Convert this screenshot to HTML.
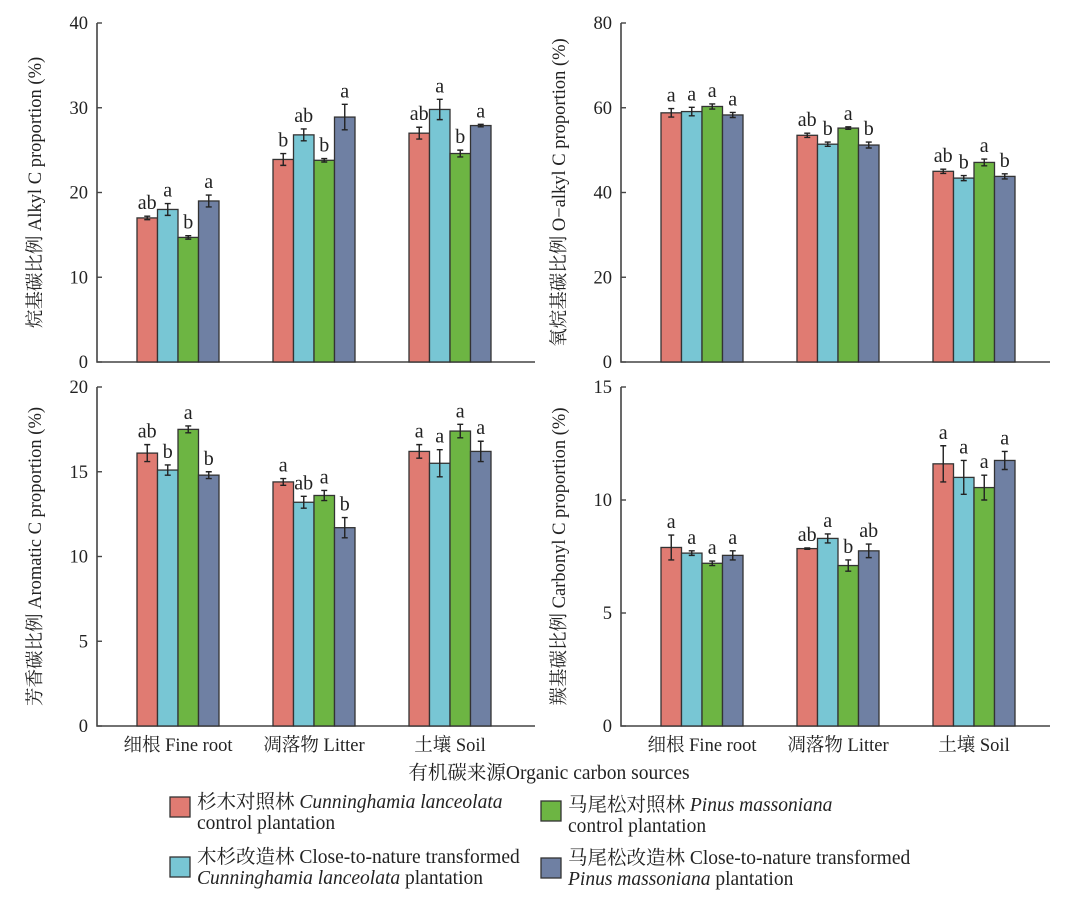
<!DOCTYPE html>
<html><head><meta charset="utf-8"><style>
html,body{margin:0;padding:0;background:#fff;width:1080px;height:897px;overflow:hidden}
svg text{font-family:"Liberation Serif","Noto Serif CJK SC","Noto Sans CJK SC",serif;fill:#222}
</style></head><body>
<svg id="chart" width="1080" height="897" viewBox="0 0 1080 897" xmlns="http://www.w3.org/2000/svg"></svg>
<script>
const categories=["细根 Fine root","凋落物 Litter","土壤 Soil"];
const seriesNames=["Cunninghamia control","Cunninghamia transformed","Pinus control","Pinus transformed"];
const colors=["#e07b72","#78c6d4","#6db543","#6f80a3"];
const alkylVals=[[17.0,18.0,14.7,19.0],[23.9,26.8,23.8,28.9],[27.0,29.8,24.6,27.9]];
const alkylErr=[[0.2,0.7,0.2,0.7],[0.7,0.7,0.2,1.5],[0.7,1.2,0.4,0.15]];
const alkylSig=[["ab","a","b","a"],["b","ab","b","a"],["ab","a","b","a"]];
const oalkylVals=[[58.8,59.1,60.3,58.3],[53.5,51.4,55.2,51.2],[45.0,43.4,47.1,43.8]];
const oalkylErr=[[1.0,1.0,0.6,0.6],[0.5,0.5,0.3,0.7],[0.5,0.6,0.8,0.6]];
const oalkylSig=[["a","a","a","a"],["ab","b","a","b"],["ab","b","a","b"]];
const aromVals=[[16.1,15.1,17.5,14.8],[14.4,13.2,13.6,11.7],[16.2,15.5,17.4,16.2]];
const aromErr=[[0.5,0.3,0.2,0.2],[0.2,0.35,0.3,0.6],[0.4,0.8,0.4,0.6]];
const aromSig=[["ab","b","a","b"],["a","ab","a","b"],["a","a","a","a"]];
const carbVals=[[7.9,7.65,7.2,7.55],[7.85,8.3,7.1,7.75],[11.6,11.0,10.55,11.75]];
const carbErr=[[0.55,0.1,0.1,0.2],[0.03,0.2,0.25,0.3],[0.8,0.75,0.55,0.4]];
const carbSig=[["a","a","a","a"],["ab","a","b","ab"],["a","a","a","a"]];
const alkylTicks=[0,10,20,30,40];
const oalkylTicks=[0,20,40,60,80];
const aromTicks=[0,5,10,15,20];
const carbTicks=[0,5,10,15];

const svg=document.getElementById('chart');
const NS="http://www.w3.org/2000/svg";
function mk(tag,attrs,parent){const e=document.createElementNS(NS,tag);for(const k in attrs)e.setAttribute(k,attrs[k]);(parent||svg).appendChild(e);return e;}

function panel(name,x0,top,bottom,xEnd,ticks,vals,errs,sigs,title,showX){
  const g=mk('g',{});
  
  
  const maxV=ticks[ticks.length-1];
  const y=v=>bottom-(v/maxV)*(bottom-top);
  const groupX=i=>x0+40+i*136;
  const bw=20.5;
  const ax=mk('path',{d:`M${x0},${top} V${bottom} H${xEnd}`,stroke:'#444','stroke-width':1.6,fill:'none'},g);
  
  
  ticks.forEach(t=>{
    mk('line',{x1:x0,x2:x0+5,y1:y(t),y2:y(t),stroke:'#444','stroke-width':1.4},g);
    const tl=mk('text',{x:x0-9,y:y(t)+6,'text-anchor':'end','font-size':18.5},g);
    tl.textContent=t;
    
    
  });
  const yt=mk('text',{x:0,y:0,'text-anchor':'middle','font-size':18.5,transform:`translate(${x0-56},${(top+bottom)/2}) rotate(-90)`},g);
  yt.textContent=title;
  
  
  categories.forEach((c,i)=>{
    vals[i].forEach((v,j)=>{
      const bx=groupX(i)+j*bw;
      const r=mk('rect',{x:bx,y:y(v),width:bw,height:bottom-y(v),fill:colors[j],stroke:'#333','stroke-width':1.3},g);
      
      
      const cx=bx+bw/2, e=errs[i][j];
      const y1=y(v+e), y2=y(v-e);
      mk('path',{d:`M${cx},${y1} V${y2} M${cx-3},${y1} H${cx+3} M${cx-3},${y2} H${cx+3}`,stroke:'#222','stroke-width':1.4,fill:'none'},g);
      const s=mk('text',{x:cx,y:y1-7,'text-anchor':'middle','font-size':20},g);
      s.textContent=sigs[i][j];
      
      
    });
    if(showX){
      const xl=mk('text',{x:groupX(i)+41,y:bottom+25,'text-anchor':'middle','font-size':18.5},g);
      xl.textContent=c;
      
      
    }
  });
}
panel('alkyl-panel',97,23,362,535,alkylTicks,alkylVals,alkylErr,alkylSig,'烷基碳比例 Alkyl C proportion (%)',false);
panel('oalkyl-panel',621,23,362,1050,oalkylTicks,oalkylVals,oalkylErr,oalkylSig,'氧烷基碳比例 O−alkyl C proportion (%)',false);
panel('aromatic-panel',97,387,726,535,aromTicks,aromVals,aromErr,aromSig,'芳香碳比例 Aromatic C proportion (%)',true);
panel('carbonyl-panel',621,387,726,1050,carbTicks,carbVals,carbErr,carbSig,'羰基碳比例 Carbonyl C proportion (%)',true);

const xt=mk('text',{x:549,y:779,'text-anchor':'middle','font-size':19.5});
xt.textContent='有机碳来源Organic carbon sources';



const legendItems=[
 {x:170,y:797,c:0,l1:'杉木对照林 <tspan font-style="italic">Cunninghamia lanceolata</tspan>',l2:'control plantation',ty:808},
 {x:541,y:801,c:2,l1:'马尾松对照林 <tspan font-style="italic">Pinus massoniana</tspan>',l2:'control  plantation',ty:811},
 {x:170,y:857,c:1,l1:'木杉改造林 Close-to-nature transformed',l2:'<tspan font-style="italic">Cunninghamia lanceolata</tspan> plantation',ty:863},
 {x:541,y:858,c:3,l1:'马尾松改造林 Close-to-nature transformed',l2:'<tspan font-style="italic">Pinus massoniana</tspan> plantation',ty:864}
];
legendItems.forEach(it=>{
  const r=mk('rect',{x:it.x,y:it.y,width:20,height:20,fill:colors[it.c],stroke:'#333','stroke-width':1.3});
  
  
  const t1=mk('text',{x:it.x+27,y:it.ty,'font-size':19.5});
  t1.innerHTML=it.l1;
  
  
  const t2=mk('text',{x:it.x+27,y:it.ty+21,'font-size':19.5});
  t2.innerHTML=it.l2;
  
  
});
</script>
</body></html>
